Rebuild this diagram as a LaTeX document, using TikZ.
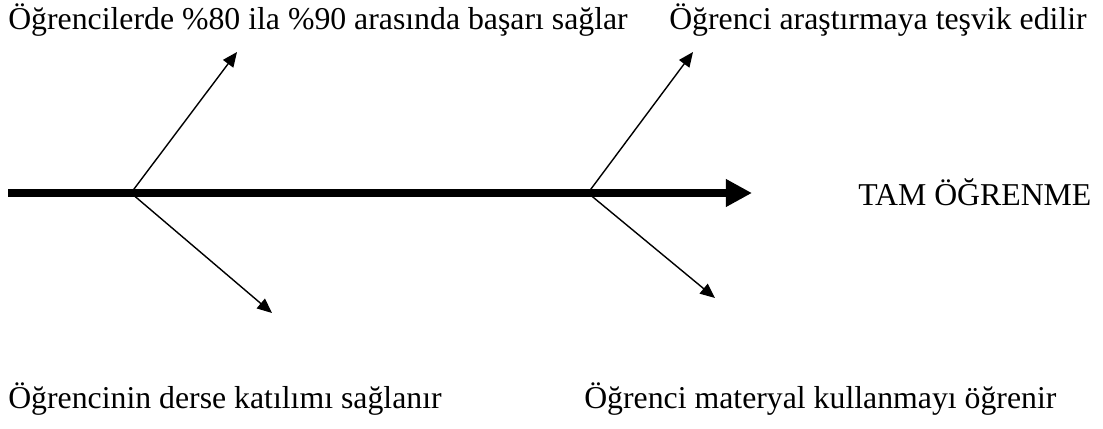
\documentclass[tikz,border=0pt]{standalone}
\usepackage{fontspec}
\setmainfont{Liberation Serif}
\usepackage{tikz}
\usetikzlibrary{arrows.meta,positioning}

\tikzset{
  spine/.style={line width=5.7pt,-{Triangle[length=18.5pt,width=18.5pt]}},
  bone/.style={line width=1pt,-{Triangle[length=10.5pt,width=9pt]}},
  lbl/.style={inner sep=0pt,anchor=base west,font=\fontsize{22.6}{27}\selectfont}
}

\begin{document}
\begin{tikzpicture}[x=0.025cm,y=-0.025cm]
\useasboundingbox (0,0) rectangle (1103,428);
% spine and branch points
\coordinate (tail) at (8,193);
\coordinate (head) at (752,193);
\coordinate (j1) at (131,193);
\coordinate (j2) at (588,193);
% arrow tips
\coordinate (t1) at (237,52);
\coordinate (t2) at (272,313);
\coordinate (t3) at (693,52);
\coordinate (t4) at (715,298);
\draw[spine] (tail) -- (head);
\draw[bone] (j1) -- (t1);
\draw[bone] (j1) -- (t2);
\draw[bone] (j2) -- (t3);
\draw[bone] (j2) -- (t4);
% labels
\node[lbl] (basari) at (8,29) {Öğrencilerde \%80 ila \%90 arasında başarı sağlar};
\node[lbl] (arastir) at (669,29) {Öğrenci araştırmaya teşvik edilir};
\node[lbl] (tam) at (858,205) {TAM ÖĞRENME};
\node[lbl] (katilim) at (8,408) {Öğrencinin derse katılımı sağlanır};
\node[lbl] (materyal) at (584,408) {Öğrenci materyal kullanmayı öğrenir};
\end{tikzpicture}
\end{document}
